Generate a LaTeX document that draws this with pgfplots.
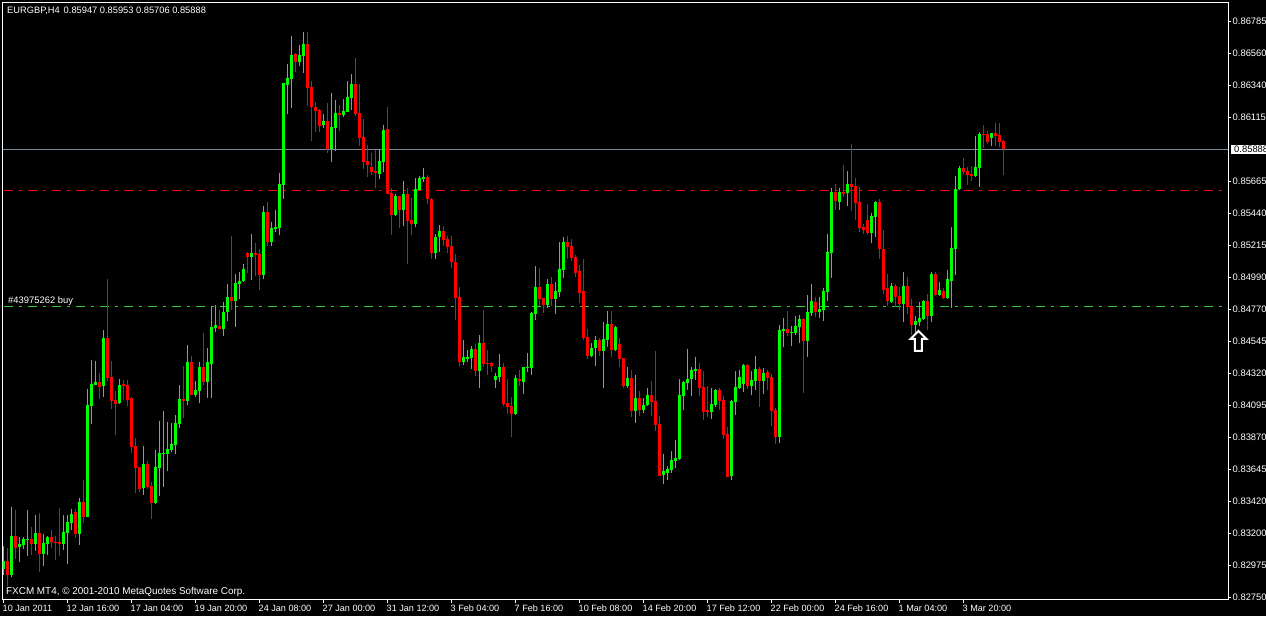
\documentclass[border=0pt]{standalone}
\usepackage{fontspec}
\setmainfont{Liberation Sans}
\usepackage{pgfplots}
\usepackage{pgfplotstable}
\pgfplotsset{compat=1.18}

% bars that closed up
\pgfplotstableread{
x o h l c
0 0.82949 0.83110 0.82907 0.83005
2 0.82907 0.83383 0.82893 0.83180
4 0.83103 0.83173 0.82998 0.83124
5 0.83117 0.83173 0.83089 0.83159
6 0.83152 0.83362 0.83040 0.83159
8 0.83124 0.83327 0.83075 0.83201
10 0.83054 0.83194 0.82970 0.83131
11 0.83124 0.83180 0.83047 0.83173
15 0.83124 0.83327 0.83082 0.83208
16 0.83201 0.83327 0.82984 0.83278
17 0.83271 0.83369 0.83222 0.83334
19 0.83194 0.83446 0.83117 0.83418
21 0.83313 0.84209 0.83313 0.84097
22 0.84090 0.84412 0.83964 0.84244
23 0.84237 0.84405 0.84237 0.84258
25 0.84230 0.84622 0.84153 0.84566
29 0.84111 0.84279 0.84104 0.84237
35 0.83516 0.83810 0.83467 0.83684
38 0.83411 0.83782 0.83404 0.83663
39 0.83656 0.83985 0.83460 0.83761
40 0.83754 0.84055 0.83523 0.83761
41 0.83754 0.83978 0.83635 0.83789
42 0.83782 0.83971 0.83768 0.83824
43 0.83817 0.84027 0.83754 0.83971
44 0.83964 0.84237 0.83936 0.84139
46 0.84125 0.84517 0.84097 0.84398
48 0.84167 0.84265 0.84153 0.84202
49 0.84195 0.84398 0.84111 0.84363
51 0.84258 0.84496 0.84146 0.84398
52 0.84384 0.84790 0.84146 0.84643
53 0.84636 0.84797 0.84608 0.84657
55 0.84629 0.84818 0.84580 0.84748
56 0.84748 0.84944 0.84685 0.84853
58 0.84825 0.85014 0.84643 0.84951
59 0.84944 0.85028 0.84839 0.84965
60 0.84965 0.85084 0.84958 0.85049
62 0.85133 0.85294 0.84972 0.85161
65 0.85007 0.85490 0.84979 0.85448
67 0.85238 0.85378 0.85210 0.85336
68 0.85329 0.85462 0.85308 0.85343
69 0.85336 0.85721 0.85287 0.85644
70 0.85637 0.86351 0.85539 0.86351
71 0.86337 0.86484 0.86134 0.86386
72 0.86379 0.86680 0.86176 0.86547
74 0.86498 0.86617 0.86470 0.86547
75 0.86540 0.86708 0.86421 0.86624
80 0.86057 0.86134 0.86036 0.86085
82 0.85889 0.86281 0.85798 0.86043
83 0.86036 0.86232 0.85875 0.86141
85 0.86127 0.86239 0.86113 0.86155
86 0.86148 0.86365 0.86148 0.86253
87 0.86246 0.86414 0.86162 0.86344
94 0.85714 0.85882 0.85679 0.85805
95 0.85798 0.86057 0.85728 0.86022
98 0.85427 0.85574 0.85420 0.85560
100 0.85462 0.85665 0.85350 0.85574
103 0.85364 0.85686 0.85343 0.85609
104 0.85602 0.85700 0.85602 0.85686
105 0.85679 0.85756 0.85658 0.85693
108 0.85161 0.85294 0.85119 0.85273
109 0.85273 0.85357 0.85168 0.85315
115 0.84398 0.84552 0.84377 0.84433
116 0.84419 0.84482 0.84398 0.84433
117 0.84426 0.84510 0.84349 0.84489
119 0.84335 0.84587 0.84216 0.84531
123 0.84272 0.84321 0.84216 0.84300
124 0.84293 0.84454 0.84258 0.84363
128 0.84034 0.84307 0.84027 0.84286
130 0.84258 0.84363 0.84174 0.84363
131 0.84356 0.84461 0.84328 0.84363
132 0.84356 0.84748 0.84307 0.84741
133 0.84734 0.85070 0.84692 0.84923
136 0.84797 0.84979 0.84776 0.84944
138 0.84839 0.84958 0.84734 0.84895
139 0.84888 0.85238 0.84853 0.85049
140 0.85042 0.85273 0.84986 0.85238
147 0.84440 0.84531 0.84433 0.84496
148 0.84496 0.84580 0.84370 0.84552
150 0.84475 0.84678 0.84216 0.84559
151 0.84552 0.84755 0.84503 0.84664
153 0.84482 0.84650 0.84475 0.84643
156 0.84230 0.84363 0.84216 0.84286
158 0.84055 0.84307 0.83971 0.84146
160 0.84062 0.84146 0.84041 0.84097
161 0.84097 0.84216 0.84090 0.84167
165 0.83607 0.83754 0.83544 0.83635
166 0.83621 0.83670 0.83572 0.83649
167 0.83642 0.83775 0.83621 0.83712
168 0.83705 0.83852 0.83656 0.83726
169 0.83719 0.84279 0.83712 0.84167
170 0.84160 0.84265 0.84062 0.84258
171 0.84251 0.84489 0.84202 0.84279
172 0.84279 0.84363 0.84160 0.84342
173 0.84335 0.84433 0.84272 0.84349
177 0.84048 0.84216 0.83999 0.84104
178 0.84097 0.84209 0.84083 0.84202
182 0.83600 0.84132 0.83572 0.84125
183 0.84118 0.84335 0.84027 0.84223
184 0.84216 0.84342 0.84209 0.84293
185 0.84244 0.84384 0.84188 0.84377
187 0.84230 0.84335 0.84167 0.84272
188 0.84265 0.84440 0.84202 0.84349
190 0.84265 0.84356 0.84174 0.84321
194 0.83873 0.84657 0.83831 0.84622
195 0.84615 0.84706 0.84503 0.84629
197 0.84601 0.84650 0.84510 0.84608
198 0.84601 0.84720 0.84587 0.84650
199 0.84643 0.84727 0.84531 0.84699
201 0.84545 0.84867 0.84433 0.84748
202 0.84741 0.84944 0.84720 0.84825
204 0.84748 0.84853 0.84706 0.84769
205 0.84762 0.84916 0.84685 0.84895
206 0.84888 0.85294 0.84825 0.85168
207 0.85161 0.85616 0.84986 0.85588
209 0.85518 0.85616 0.85462 0.85588
211 0.85581 0.85735 0.85490 0.85644
217 0.85301 0.85441 0.85231 0.85420
218 0.85413 0.85525 0.85273 0.85518
222 0.84818 0.84951 0.84811 0.84930
225 0.84804 0.85028 0.84678 0.84930
228 0.84657 0.84720 0.84601 0.84685
229 0.84678 0.84818 0.84650 0.84706
230 0.84699 0.84832 0.84692 0.84825
232 0.84720 0.85028 0.84678 0.85014
234 0.84867 0.84958 0.84860 0.84902
236 0.84846 0.85042 0.84839 0.84979
237 0.84965 0.85343 0.84776 0.85196
238 0.85189 0.85700 0.85007 0.85609
239 0.85609 0.85770 0.85602 0.85756
243 0.85700 0.85980 0.85693 0.85763
244 0.85756 0.86008 0.85623 0.85994
247 0.85966 0.86001 0.85910 0.86001
}\upbars

% bars that closed down
\pgfplotstableread{
x o h l c
1 0.83005 0.83096 0.82830 0.82907
3 0.83180 0.83362 0.83019 0.83096
7 0.83159 0.83243 0.83047 0.83124
9 0.83201 0.83341 0.82928 0.83054
12 0.83173 0.83222 0.83096 0.83138
13 0.83138 0.83180 0.83012 0.83131
14 0.83138 0.83376 0.83040 0.83124
18 0.83348 0.83369 0.83166 0.83194
20 0.83418 0.83572 0.83271 0.83313
24 0.84258 0.84321 0.84139 0.84223
26 0.84566 0.84979 0.84265 0.84286
27 0.84293 0.84405 0.84069 0.84125
28 0.84132 0.84195 0.83887 0.84104
30 0.84244 0.84272 0.84132 0.84230
31 0.84237 0.84272 0.84090 0.84132
32 0.84146 0.84153 0.83761 0.83803
33 0.83810 0.83866 0.83481 0.83656
34 0.83663 0.83663 0.83488 0.83509
36 0.83684 0.83705 0.83509 0.83523
37 0.83530 0.83558 0.83299 0.83411
45 0.84139 0.84370 0.84006 0.84125
47 0.84398 0.84440 0.84167 0.84167
50 0.84363 0.84601 0.84237 0.84258
54 0.84650 0.84762 0.84629 0.84629
57 0.84853 0.85280 0.84762 0.84825
61 0.85161 0.85168 0.85021 0.85133
63 0.85161 0.85231 0.85000 0.85147
64 0.85154 0.85189 0.84902 0.85007
66 0.85448 0.85518 0.85210 0.85238
73 0.86554 0.86561 0.86428 0.86498
76 0.86624 0.86708 0.86190 0.86316
77 0.86323 0.86365 0.85945 0.86183
78 0.86183 0.86218 0.86008 0.86155
79 0.86162 0.86169 0.86008 0.86050
81 0.86085 0.86211 0.85861 0.85889
84 0.86141 0.86197 0.86015 0.86127
88 0.86344 0.86526 0.86120 0.86134
89 0.86141 0.86344 0.85910 0.85966
90 0.85973 0.86099 0.85749 0.85798
91 0.85805 0.85917 0.85693 0.85777
92 0.85763 0.85861 0.85707 0.85728
93 0.85735 0.85882 0.85616 0.85721
96 0.86029 0.86183 0.85574 0.85574
97 0.85581 0.85616 0.85287 0.85427
99 0.85560 0.85560 0.85336 0.85462
101 0.85574 0.85616 0.85084 0.85385
102 0.85392 0.85546 0.85287 0.85364
106 0.85693 0.85707 0.85504 0.85539
107 0.85539 0.85546 0.85119 0.85161
110 0.85315 0.85350 0.85210 0.85252
111 0.85259 0.85280 0.85161 0.85203
112 0.85210 0.85280 0.85056 0.85098
113 0.85098 0.85154 0.84692 0.84846
114 0.84853 0.84923 0.84370 0.84398
118 0.84489 0.84524 0.84300 0.84335
120 0.84531 0.84762 0.84363 0.84384
121 0.84391 0.84482 0.84307 0.84384
122 0.84391 0.84398 0.84328 0.84370
125 0.84363 0.84391 0.84090 0.84104
126 0.84111 0.84279 0.84034 0.84083
127 0.84090 0.84153 0.83873 0.84034
129 0.84279 0.84342 0.84230 0.84265
134 0.84923 0.85056 0.84790 0.84839
135 0.84846 0.84846 0.84741 0.84797
137 0.84944 0.84993 0.84790 0.84839
141 0.85238 0.85280 0.85119 0.85203
142 0.85210 0.85259 0.85105 0.85126
143 0.85133 0.85147 0.84993 0.85021
144 0.85035 0.85077 0.84811 0.84881
145 0.84895 0.85119 0.84552 0.84566
146 0.84573 0.84629 0.84419 0.84440
149 0.84552 0.84566 0.84440 0.84475
152 0.84664 0.84755 0.84433 0.84482
154 0.84524 0.84566 0.84363 0.84419
155 0.84426 0.84426 0.84216 0.84230
157 0.84286 0.84342 0.84013 0.84055
159 0.84146 0.84195 0.84020 0.84062
162 0.84167 0.84265 0.84020 0.84118
163 0.84125 0.84475 0.83915 0.83957
164 0.83964 0.84020 0.83600 0.83600
174 0.84349 0.84391 0.84160 0.84216
175 0.84223 0.84335 0.83992 0.84048
176 0.84062 0.84230 0.84013 0.84048
179 0.84202 0.84216 0.84062 0.84125
180 0.84132 0.84160 0.83859 0.83887
181 0.83894 0.83943 0.83593 0.83593
186 0.84377 0.84384 0.84209 0.84230
189 0.84349 0.84363 0.84083 0.84265
191 0.84328 0.84342 0.84202 0.84286
192 0.84293 0.84314 0.83950 0.84055
193 0.84062 0.84076 0.83824 0.83873
196 0.84629 0.84755 0.84580 0.84601
200 0.84699 0.84706 0.84181 0.84545
203 0.84818 0.84853 0.84713 0.84748
208 0.85588 0.85644 0.85462 0.85525
210 0.85588 0.85777 0.85553 0.85574
212 0.85644 0.85924 0.85455 0.85623
213 0.85630 0.85686 0.85392 0.85511
214 0.85518 0.85623 0.85308 0.85336
215 0.85343 0.85364 0.85294 0.85322
216 0.85392 0.85504 0.85294 0.85301
219 0.85518 0.85539 0.85119 0.85189
220 0.85189 0.85322 0.84874 0.84902
221 0.84916 0.85014 0.84790 0.84825
223 0.84930 0.84944 0.84783 0.84853
224 0.84860 0.84923 0.84762 0.84804
226 0.84930 0.84993 0.84734 0.84783
227 0.84790 0.84839 0.84587 0.84657
231 0.84825 0.84874 0.84622 0.84720
233 0.85014 0.85028 0.84860 0.84867
235 0.84895 0.84916 0.84839 0.84846
240 0.85756 0.85826 0.85714 0.85728
241 0.85735 0.85763 0.85637 0.85707
242 0.85714 0.85770 0.85665 0.85700
245 0.85994 0.86057 0.85896 0.85987
246 0.85994 0.86015 0.85924 0.85938
248 0.86001 0.86071 0.85910 0.85980
249 0.85987 0.86071 0.85903 0.85938
250 0.85947 0.85953 0.85706 0.85888
}\downbars

\definecolor{mtgreen}{RGB}{0,255,0}
\definecolor{mtred}{RGB}{255,0,0}
\definecolor{mtline}{RGB}{50,205,50}
\definecolor{mtgray}{RGB}{119,136,153}

\pgfdeclareplotmark{mtarrow}{%
  \pgfpathmoveto{\pgfqpoint{0pt}{-1.5pt}}%
  \pgfpathlineto{\pgfqpoint{8pt}{-9.5pt}}%
  \pgfpathlineto{\pgfqpoint{3.5pt}{-9.5pt}}%
  \pgfpathlineto{\pgfqpoint{3.5pt}{-21.5pt}}%
  \pgfpathlineto{\pgfqpoint{-3.5pt}{-21.5pt}}%
  \pgfpathlineto{\pgfqpoint{-3.5pt}{-9.5pt}}%
  \pgfpathlineto{\pgfqpoint{-8pt}{-9.5pt}}%
  \pgfpathclose
  \pgfusepathqfillstroke
}

\pgfplotsset{
  wick/.style={draw=none,mark=none,forget plot,
    error bars/.cd,y dir=both,y explicit,error mark=none,
    error bar style={line width=1pt,solid,color=#1}},
  body/.style={draw=none,mark=none,forget plot,
    error bars/.cd,y dir=both,y explicit,error mark=none,
    error bar style={line width=3pt,solid,color=#1}},
}

\tikzset{mtdash/.style={line width=1pt,dash pattern=on 9pt off 6pt on 3pt off 6pt}}

\begin{document}
\begin{tikzpicture}[x=1pt,y=1pt,every node/.style={text=white}]
  \fill[black] (0,0) rectangle (1266,616);
  \useasboundingbox (0,0) rectangle (1266,616);
  \begin{axis}[
    at={(2.5pt,16.5pt)},anchor=south west,
    scale only axis,width=1226pt,height=597pt,
    xmin=-0.25,xmax=306.25,ymin=0.827355,ymax=0.869145,
    clip mode=individual,
    axis line style={white,line width=1pt},
    tick style={white,line width=1pt},
    tick align=outside,major tick length=3pt,
    xtick pos=bottom,ytick pos=right,
    yticklabel pos=right,
    xtick={0,16,32,48,64,80,96,112,128,144,160,176,192,208,224,240},
    xticklabels={10 Jan 2011,12 Jan 16:00,17 Jan 04:00,19 Jan 20:00,24 Jan 08:00,27 Jan 00:00,31 Jan 12:00,3 Feb 04:00,7 Feb 16:00,10 Feb 08:00,14 Feb 20:00,17 Feb 12:00,22 Feb 00:00,24 Feb 16:00,1 Mar 04:00,3 Mar 20:00},
    xticklabel style={anchor=north west,inner sep=0pt,xshift=-1pt,yshift=-2pt,text=white,font=\fontsize{9.1}{10}\selectfont},
    ytick={0.867815,0.865575,0.863335,0.861095,0.856615,0.854375,0.852135,0.849895,0.847655,0.845415,0.843175,0.840935,0.838695,0.836455,0.834215,0.831975,0.829735,0.827495},
    yticklabels={0.86785,0.86560,0.86340,0.86115,0.85665,0.85440,0.85215,0.84990,0.84770,0.84545,0.84320,0.84095,0.83870,0.83645,0.83420,0.83200,0.82975,0.82750},
    yticklabel style={anchor=west,inner sep=0pt,xshift=1pt,text=white,font=\fontsize{9.4}{10}\selectfont},
  ]
    % price lines
    \addplot[mtgray,line width=1pt,forget plot] coordinates {(-0.25,0.858855) (306.25,0.858855)};
    \addplot[mtred,mtdash,forget plot] coordinates {(0.125,0.855985) (304.625,0.855985)};
    \addplot[mtline,mtdash,forget plot] coordinates {(0.125,0.847865) (304.625,0.847865)};
    % candles
    \addplot[wick=mtgreen] table[x=x,y=c,y error plus expr=\thisrow{h}-\thisrow{c},y error minus expr=\thisrow{c}-\thisrow{l}] {\upbars};
    \addplot[body=mtgreen] table[x=x,y=c,y error plus expr=0,y error minus expr=\thisrow{c}-\thisrow{o}] {\upbars};
    \addplot[wick=mtred] table[x=x,y=c,y error plus expr=\thisrow{h}-\thisrow{c},y error minus expr=\thisrow{c}-\thisrow{l}] {\downbars};
    \addplot[body=mtred] table[x=x,y=c,y error plus expr=\thisrow{o}-\thisrow{c},y error minus expr=0] {\downbars};
    % entry arrow
    \addplot[only marks,mark=mtarrow,mark options={draw=white,fill=black,line width=2pt,solid,miter limit=3},forget plot]
      coordinates {(228.75,0.84626)};
  \end{axis}
  \node[anchor=west,inner sep=0pt,font=\fontsize{9.3}{10}\selectfont] at (7,605) {EURGBP,H4\hspace{4pt}0.85947 0.85953 0.85706 0.85888};
  \node[anchor=west,inner sep=0pt,font=\fontsize{9.9}{10}\selectfont] at (6,24.5) {FXCM MT4, © 2001-2010 MetaQuotes Software Corp.};
  \node[anchor=west,inner sep=0pt,font=\fontsize{9.4}{10}\selectfont] at (8,314.5) {\#43975262 buy};
  \node[anchor=west,inner sep=0pt,fill=white,text=black,minimum height=9pt,minimum width=35pt,inner xsep=3pt,font=\fontsize{9.4}{10}\selectfont] at (1231,466.5) {0.85888};
\end{tikzpicture}
\end{document}
